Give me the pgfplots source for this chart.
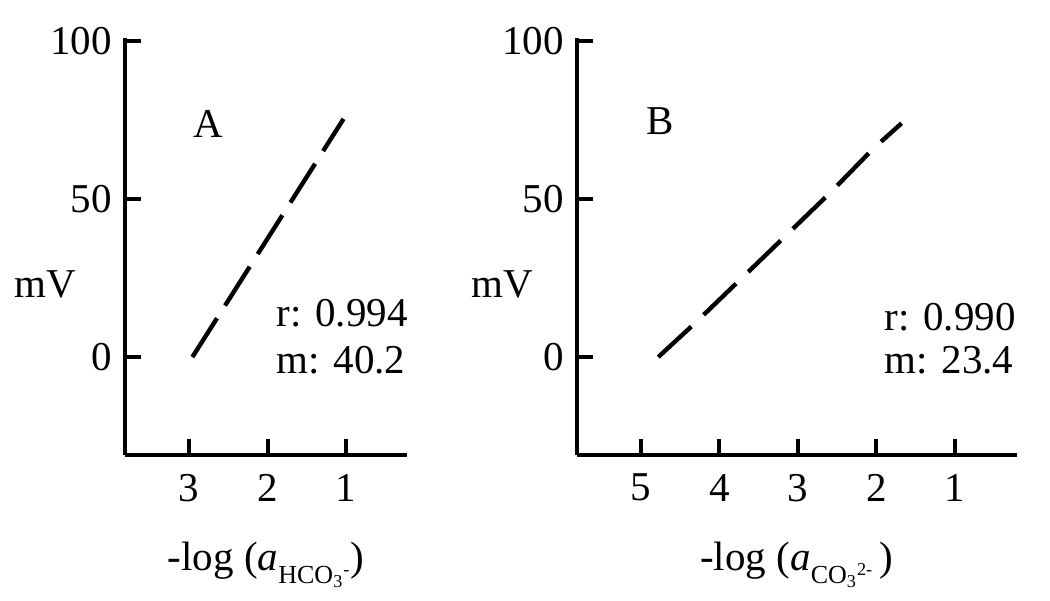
\documentclass[border=0pt]{standalone}
\usepackage{fontspec}
\setmainfont{Liberation Serif}
\usepackage{pgfplots}
\pgfplotsset{compat=1.18}
\newcommand{\fs}{\fontsize{20.5}{24}\selectfont}
\newcommand{\sub}[1]{\raisebox{-6.5pt}{\fontsize{13}{13}\selectfont #1}}
\pgfplotsset{panel/.style={
 scale only axis, height=208.5pt, anchor=south west,
 axis x line=bottom, axis y line=left, axis line style={-, line width=2pt},
 x dir=reverse, ymin=-31, ymax=101, ytick={0,50,100},
 tick align=inside, major tick length=8pt, tick style={line width=2pt, black},
 /pgf/number format/assume math mode=true,
 tick label style={font=\fs}, label style={font=\fs},
 xticklabel style={yshift=-6pt},
 yticklabel style={xshift=-3pt},
 xlabel style={at={(axis description cs:0.5,-0.264)}, anchor=center},
 clip=false,
}}
\begin{document}
\begin{tikzpicture}
\useasboundingbox (-62.5pt,-72.5pt) rectangle (462.5pt,227.5pt);
\begin{axis}[panel, at={(0pt,0pt)}, width=141pt,
  xmin=0.22, xmax=3.82, xtick={1,2,3},
  ylabel={mV}, ylabel style={at={(axis description cs:-0.284,0.408)}, rotate=-90, anchor=center},
  xlabel={-log (\textit{a}\sub{HCO\textsubscript{3}\textsuperscript{-}})}]
\addplot[black, line width=2.2pt, dash pattern=on 23pt off 7.5pt] coordinates {(2.96,0) (1.03,75.4)};
\node[font=\fs] at (axis cs:2.76,73.8) {A};
\node[font=\fs, anchor=west, inner sep=0pt] at (axis cs:1.89,13.9) {r: 0.994};
\node[font=\fs, anchor=west, inner sep=0pt] at (axis cs:1.89,-1) {m: 40.2};
\end{axis}
\begin{axis}[panel, at={(226pt,0pt)}, width=220pt,
  xmin=0.21, xmax=5.815, xtick={1,2,3,4,5},
  ylabel={mV}, ylabel style={at={(axis description cs:-0.17,0.408)}, rotate=-90, anchor=center},
  xlabel={-log (\textit{a}\sub{CO\textsubscript{3}\textsuperscript{2-}}\,)}]
\addplot[black, line width=2.2pt, dash pattern=on 22.5pt off 8.5pt] coordinates {(4.78,0) (4.3,11) (4.05,17) (3.59,28) (2.59,52) (2.04,66) (1.68,74)};
\node[font=\fs] at (axis cs:4.76,74.8) {B};
\node[font=\fs, anchor=west, inner sep=0pt] at (axis cs:1.90,12.6) {r: 0.990};
\node[font=\fs, anchor=west, inner sep=0pt] at (axis cs:1.90,-1) {m: 23.4};
\end{axis}
\end{tikzpicture}
\end{document}
